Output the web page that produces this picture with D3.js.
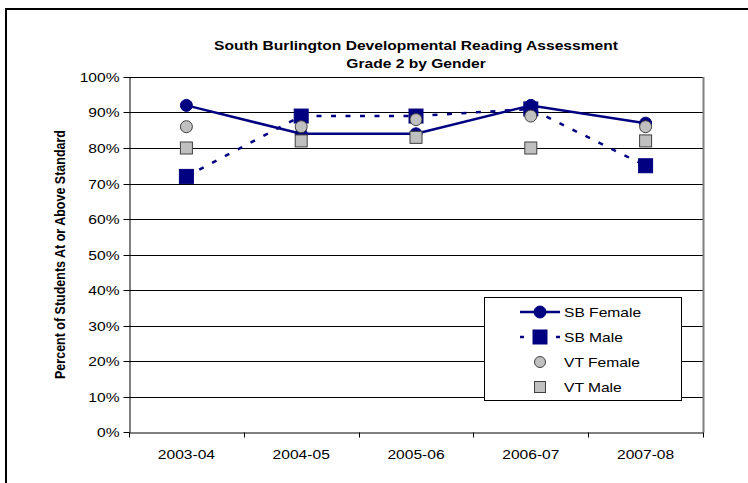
<html>
<head>
<script src="https://d3js.org/d3.v7.min.js"></script>
<style>
body{margin:0;background:#fff;}
text{font-family:"Liberation Sans", Arial, sans-serif;fill:#000;}
</style>
</head>
<body>
<div id="chart"></div>
<script>
var years = ["2003-04", "2004-05", "2005-06", "2006-07", "2007-08"];
var sbFemale = [92, 84, 84, 92, 87];
var sbMale = [72, 89, 89, 91, 75];
var vtFemale = [86, 86, 88, 89, 86];
var vtMale = [80, 82, 83, 80, 82];
var yTicks = [0, 10, 20, 30, 40, 50, 60, 70, 80, 90, 100];
var titleLines = ["South Burlington Developmental Reading Assessment", "Grade 2 by Gender"];
var yTitle = "Percent of Students At or Above Standard";

var width = 748, height = 483;
// note: "top" is taken by window.top, so plot edges get their own names
var plotLeft = 129, plotRight = 703, plotTop = 77, plotBottom = 432;
var sx = 1.2; // the original text is stretched sideways a bit
var navy = "#000080";

var svg = d3.select("#chart").append("svg")
  .attr("width", width).attr("height", height);

// outer frame
svg.append("rect")
  .attr("x", 6).attr("y", 9).attr("width", 780).attr("height", 520)
  .attr("fill", "none").attr("stroke", "#000").attr("stroke-width", 2);

var x = d3.scaleBand().domain(years).range([plotLeft, plotRight]);
var y = d3.scaleLinear().domain([0, 100]).range([plotBottom, plotTop]);
var cx = function(i) { return x(years[i]) + x.bandwidth() / 2; };
var crisp = function(v) { return Math.round(v) + 0.5; };

// gridlines
svg.append("g").selectAll("line")
  .data(yTicks.filter(function(d) { return d > 0; }))
  .enter().append("line")
  .attr("x1", plotLeft).attr("x2", plotRight)
  .attr("y1", function(d) { return crisp(y(d)); })
  .attr("y2", function(d) { return crisp(y(d)); })
  .attr("stroke", "#000").attr("stroke-width", 1);

// right edge of plot
svg.append("line")
  .attr("x1", plotRight + 0.5).attr("x2", plotRight + 0.5)
  .attr("y1", y(100)).attr("y2", crisp(y(0)))
  .attr("stroke", "#808080").attr("stroke-width", 2);

// y axis
var yAxis = svg.append("g")
  .attr("transform", "translate(" + (plotLeft + 0.5) + ",0)")
  .call(d3.axisLeft(y).tickValues(yTicks).tickFormat(function(d) { return d + "%"; })
    .tickSize(6).tickPadding(4).tickSizeOuter(0));
yAxis.selectAll(".tick").attr("transform", function(d) { return "translate(0," + crisp(y(d)) + ")"; });
yAxis.select(".domain").attr("stroke", "#000");
yAxis.selectAll(".tick line").attr("stroke", "#000");
yAxis.selectAll(".tick text")
  .attr("x", -10 / sx).attr("dy", "0.35em")
  .attr("transform", "scale(" + sx + ",1)")
  .style("font-size", "13px").style("font-family", "Liberation Sans, Arial, sans-serif");

// x axis
var xAxis = svg.append("g")
  .attr("transform", "translate(0," + crisp(y(0)) + ")")
  .call(d3.axisBottom(x).tickSize(0).tickPadding(17).tickSizeOuter(0));
xAxis.select(".domain").attr("stroke", "#000");
xAxis.selectAll(".tick text")
  .attr("transform", "scale(" + sx + ",1)")
  .style("font-size", "13px").style("font-family", "Liberation Sans, Arial, sans-serif");
xAxis.selectAll(".edge")
  .data(d3.range(years.length + 1))
  .enter().append("line")
  .attr("x1", function(i) { return crisp(plotLeft + i * x.bandwidth()); })
  .attr("x2", function(i) { return crisp(plotLeft + i * x.bandwidth()); })
  .attr("y1", 0).attr("y2", 5)
  .attr("stroke", "#000");

// titles
svg.append("g").selectAll("text")
  .data(titleLines)
  .enter().append("text")
  .attr("transform", function(d, i) { return "translate(" + ((plotLeft + plotRight) / 2) + "," + (50 + i * 18) + ") scale(" + sx + ",1)"; })
  .attr("text-anchor", "middle")
  .style("font-size", "13px").style("font-weight", "bold")
  .text(function(d) { return d; });

svg.append("text")
  .attr("transform", "translate(65," + ((plotTop + plotBottom) / 2) + ") rotate(-90) scale(1," + sx + ")")
  .attr("text-anchor", "middle")
  .style("font-size", "12.5px").style("font-weight", "bold")
  .text(yTitle);

// lines
var line = d3.line()
  .x(function(d, i) { return cx(i); })
  .y(function(d) { return y(d); });

svg.append("path").datum(sbFemale)
  .attr("d", line).attr("fill", "none")
  .attr("stroke", navy).attr("stroke-width", 2.5);
svg.append("path").datum(sbMale)
  .attr("d", line).attr("fill", "none")
  .attr("stroke", navy).attr("stroke-width", 2.5)
  .attr("stroke-dasharray", "5,9.5");

// markers
function circles(data, r, fill, stroke) {
  svg.append("g").selectAll("circle")
    .data(data).enter().append("circle")
    .attr("cx", function(d, i) { return cx(i); })
    .attr("cy", function(d) { return y(d); })
    .attr("r", r).attr("fill", fill).attr("stroke", stroke);
}
function squares(data, s, fill, stroke) {
  svg.append("g").selectAll("rect")
    .data(data).enter().append("rect")
    .attr("x", function(d, i) { return cx(i) - s / 2; })
    .attr("y", function(d) { return y(d) - s / 2; })
    .attr("width", s).attr("height", s)
    .attr("fill", fill).attr("stroke", stroke);
}
circles(sbFemale, 6, navy, navy);
squares(sbMale, 14, navy, navy);
circles(vtFemale, 6, "#c0c0c0", "#404040");
squares(vtMale, 12, "#c0c0c0", "#404040");

// legend
var legend = svg.append("g");
legend.append("rect")
  .attr("x", 484.5).attr("y", 297.5).attr("width", 197).attr("height", 103)
  .attr("fill", "#fff").attr("stroke", "#000");
var names = ["SB Female", "SB Male", "VT Female", "VT Male"];
var rows = legend.selectAll(".row").data(names).enter().append("g")
  .attr("transform", function(d, i) { return "translate(540," + (312 + i * 25) + ")"; });
rows.filter(function(d, i) { return i < 2; }).append("line")
  .attr("x1", -20).attr("x2", 20)
  .attr("stroke", navy).attr("stroke-width", 2.5)
  .attr("stroke-dasharray", function(d, i) { return i == 1 ? "4,11,10,11,4" : null; });
rows.each(function(d, i) {
  var g = d3.select(this);
  var fill = i < 2 ? navy : "#c0c0c0";
  var stroke = i < 2 ? navy : "#404040";
  if (i % 2 == 0) {
    g.append("circle").attr("r", i < 2 ? 6 : 5.5).attr("fill", fill).attr("stroke", stroke);
  } else {
    var s = i < 2 ? 14 : 11;
    g.append("rect").attr("x", -s / 2).attr("y", -s / 2).attr("width", s).attr("height", s)
      .attr("fill", fill).attr("stroke", stroke);
  }
});
rows.append("text")
  .attr("transform", "translate(24,5) scale(" + sx + ",1)")
  .style("font-size", "13px")
  .text(function(d) { return d; });
</script>
</body>
</html>
